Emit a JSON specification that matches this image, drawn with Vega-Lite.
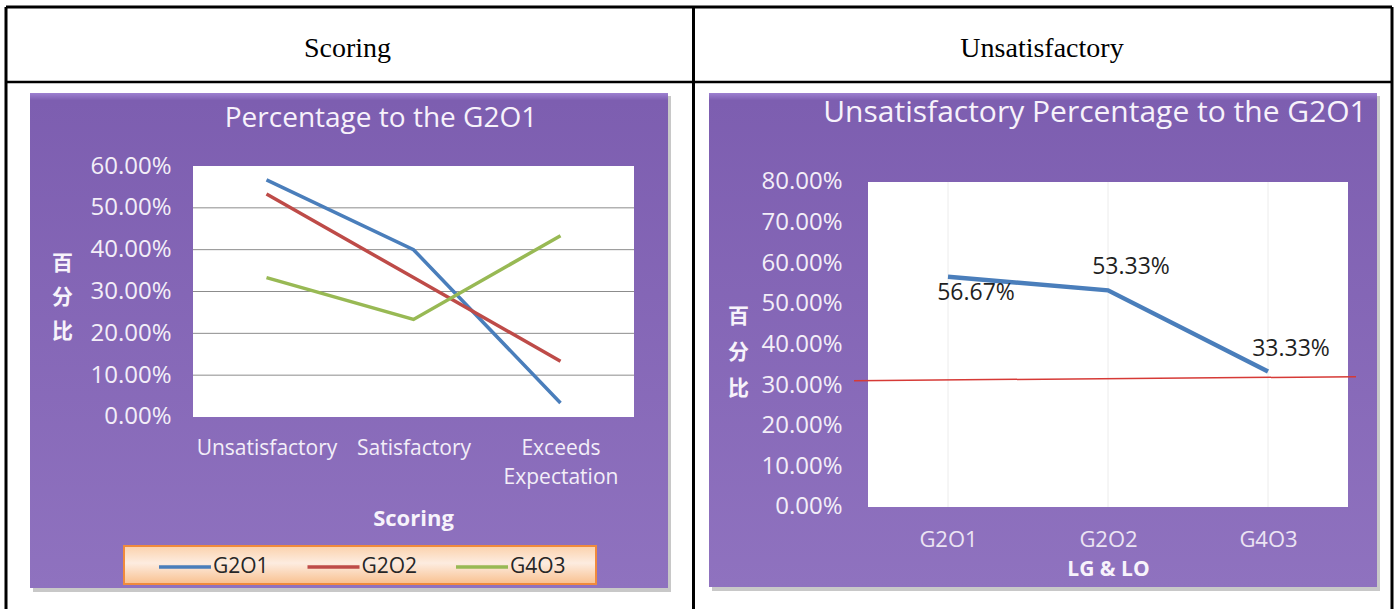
{
  "$schema": "https://vega.github.io/schema/vega-lite/v6.json",
  "background": "white",
  "padding": 0,
  "spacing": 0,
  "bounds": "flush",
  "datasets": {
    "scoring": [
      {"scoring": "Unsatisfactory", "level": 1, "group": "G2O1", "pct": 0.5667},
      {"scoring": "Satisfactory", "level": 2, "group": "G2O1", "pct": 0.4},
      {"scoring": "Exceeds Expectation", "level": 3, "group": "G2O1", "pct": 0.0333},
      {"scoring": "Unsatisfactory", "level": 1, "group": "G2O2", "pct": 0.5333},
      {"scoring": "Satisfactory", "level": 2, "group": "G2O2", "pct": 0.3333},
      {"scoring": "Exceeds Expectation", "level": 3, "group": "G2O2", "pct": 0.1333},
      {"scoring": "Unsatisfactory", "level": 1, "group": "G4O3", "pct": 0.3333},
      {"scoring": "Satisfactory", "level": 2, "group": "G4O3", "pct": 0.2333},
      {"scoring": "Exceeds Expectation", "level": 3, "group": "G4O3", "pct": 0.4333}
    ],
    "unsat": [
      {"group": "G2O1", "rank": 1, "pct": 0.5667},
      {"group": "G2O2", "rank": 2, "pct": 0.5333},
      {"group": "G4O3", "rank": 3, "pct": 0.3333}
    ]
  },
  "hconcat": [
    {
      "width": 697,
      "height": 609,
      "data": {"name": "scoring"},
      "layer": [
        {
          "data": {"values": [{}]},
          "mark": {"type": "rect", "color": "#4a4a4a", "opacity": 0.3},
          "encoding": {
            "x": {"datum": -0.5884, "type": "quantitative", "scale": {"domain": [-0.81293, 3.92857], "nice": false, "zero": false}},
            "x2": {"datum": 3.7517},
            "y": {"datum": 0.7673, "type": "quantitative", "scale": {"domain": [-0.45897, 0.99682], "nice": false, "zero": false}},
            "y2": {"datum": -0.4183}
          }
        },
        {
          "data": {"values": [{}]},
          "mark": {"type": "rect", "fill": {"gradient": "linear", "x1": 0, "y1": 0, "x2": 0, "y2": 1, "stops": [{"offset": 0, "color": "#9d80d0"}, {"offset": 0.015, "color": "#7d5eb0"}, {"offset": 1, "color": "#8f72bf"}]}},
          "encoding": {
            "x": {"datum": -0.60884, "type": "quantitative"},
            "x2": {"datum": 3.73129},
            "y": {"datum": 0.77451, "type": "quantitative"},
            "y2": {"datum": -0.40877}
          }
        },
        {
          "data": {"values": [{}]},
          "mark": {"type": "rect", "color": "white", "opacity": 1},
          "encoding": {
            "x": {"datum": 0.5, "type": "quantitative"},
            "x2": {"datum": 3.5},
            "y": {"datum": 0, "type": "quantitative"},
            "y2": {"datum": 0.6}
          }
        },
        {
          "data": {"values": [{"tick": 0.1}, {"tick": 0.2}, {"tick": 0.3}, {"tick": 0.4}, {"tick": 0.5}]},
          "mark": {"type": "rule", "color": "#8c8c8c", "strokeWidth": 1},
          "encoding": {
            "x": {"datum": 0.5, "type": "quantitative"},
            "x2": {"datum": 3.5},
            "y": {"field": "tick", "type": "quantitative"}
          }
        },
        {
          "mark": {"type": "line", "strokeWidth": 3.5},
          "encoding": {
            "x": {
              "field": "level", "type": "quantitative",
              "scale": {"domain": [-0.81293, 3.92857], "nice": false, "zero": false},
              "axis": {
                "orient": "bottom", "offset": -192, "values": [1, 2, 3],
                "labelExpr": "datum.value == 1 ? 'Unsatisfactory' : datum.value == 2 ? 'Satisfactory' : ['Exceeds', 'Expectation']",
                "domain": false, "ticks": false, "grid": false, "zindex": 1,
                "labelPadding": 20, "labelFont": "Open Sans", "labelFontSize": 21, "labelColor": "#f3eef8",
                "labelLineHeight": 29, "labelOverlap": false, "labelFlush": false, "labelBound": false,
                "title": "Scoring", "titleFont": "Open Sans", "titleFontWeight": "bold", "titleFontSize": 22,
                "titleColor": "#f7f3fb", "titleX": 413, "titleY": 101, "titleBaseline": "middle", "titleAlign": "center"
              }
            },
            "y": {
              "field": "pct", "type": "quantitative",
              "scale": {"domain": [-0.45897, 0.99682], "nice": false, "zero": false},
              "axis": {
                "orient": "left", "offset": -178, "values": [0, 0.1, 0.2, 0.3, 0.4, 0.5, 0.6], "format": ".2%",
                "domain": false, "ticks": false, "grid": false, "zindex": 1,
                "labelPadding": 7, "labelFont": "Open Sans", "labelFontSize": 24, "labelColor": "#f3eef8",
                "labelOverlap": false, "labelBound": false,
                "title": ["百", "分", "比"], "titleAngle": 0, "titleFont": "Noto Sans CJK SC", "titleFontWeight": "bold",
                "titleFontSize": 21, "titleColor": "#f7f3fb", "titleLineHeight": 34,
                "titleX": -116, "titleY": 263, "titleAlign": "center", "titleBaseline": "middle"
              }
            },
            "color": {
              "field": "group", "type": "nominal",
              "scale": {"domain": ["G2O1", "G2O2", "G4O3"], "range": ["#4a7ebb", "#be4b48", "#98b954"]},
              "legend": {
                "orient": "none", "direction": "horizontal", "columns": 3, "title": null,
                "legendX": 157, "legendY": 539, "padding": 0,
                "symbolType": "stroke", "symbolSize": 2704, "symbolStrokeWidth": 3.5,
                "labelFont": "Open Sans", "labelFontSize": 21, "labelColor": "#262626", "labelOffset": 0,
                "columnPadding": 31.5
              }
            }
          }
        },
        {
          "data": {"values": [{}]},
          "mark": {"type": "rect", "stroke": "#f08a3c", "strokeWidth": 2, "fill": {"gradient": "linear", "x1": 0, "y1": 0, "x2": 0, "y2": 1, "stops": [{"offset": 0, "color": "#fbd2ac"}, {"offset": 0.45, "color": "#fdece0"}, {"offset": 1, "color": "#f9c08e"}]}},
          "encoding": {
            "x": {"datum": 0.0306, "type": "quantitative"},
            "x2": {"datum": 3.2415},
            "y": {"datum": -0.3084, "type": "quantitative"},
            "y2": {"datum": -0.3992}
          }
        },
        {
          "data": {"values": [{}]},
          "mark": {"type": "text", "text": "Percentage to the G2O1", "font": "Open Sans", "fontSize": 28, "color": "#f7f2fb", "baseline": "middle", "align": "center"},
          "encoding": {
            "x": {"datum": 1.7789, "type": "quantitative"},
            "y": {"datum": 0.7124, "type": "quantitative"}
          }
        },
        {
          "data": {"values": [{}]},
          "mark": {"type": "text", "text": "Scoring", "font": "Liberation Serif", "fontSize": 28, "color": "#000000", "baseline": "alphabetic", "align": "center"},
          "encoding": {
            "x": {"datum": 1.551, "type": "quantitative"},
            "y": {"datum": 0.8606, "type": "quantitative"}
          }
        },
        {
          "data": {"values": [{}]},
          "mark": {"type": "rule", "color": "#000000", "strokeWidth": 3},
          "encoding": {
            "x": {"datum": -0.77211, "type": "quantitative"},
            "x2": {"datum": 3.92857},
            "y": {"datum": 0.9801, "type": "quantitative"}
          }
        },
        {
          "data": {"values": [{}]},
          "mark": {"type": "rule", "color": "#000000", "strokeWidth": 2.5},
          "encoding": {
            "x": {"datum": -0.77211, "type": "quantitative"},
            "x2": {"datum": 3.92857},
            "y": {"datum": 0.8008, "type": "quantitative"}
          }
        },
        {
          "data": {"values": [{}]},
          "mark": {"type": "rule", "color": "#000000", "strokeWidth": 3},
          "encoding": {
            "x": {"datum": -0.77211, "type": "quantitative"},
            "y": {"datum": 0.9801, "type": "quantitative"},
            "y2": {"datum": -0.45897}
          }
        },
        {
          "data": {"values": [{}]},
          "mark": {"type": "rule", "color": "#000000", "strokeWidth": 3},
          "encoding": {
            "x": {"datum": 3.90476, "type": "quantitative"},
            "y": {"datum": 0.9801, "type": "quantitative"},
            "y2": {"datum": -0.45897}
          }
        }
      ]
    },
    {
      "width": 697,
      "height": 609,
      "data": {"name": "unsat"},
      "layer": [
        {
          "data": {"values": [{}]},
          "mark": {"type": "rect", "color": "#4a4a4a", "opacity": 0.3},
          "encoding": {
            "x": {"datum": -0.475, "type": "quantitative", "scale": {"domain": [-0.56875, 3.7875], "nice": false, "zero": false}},
            "x2": {"datum": 3.7},
            "y": {"datum": 1.01169, "type": "quantitative", "scale": {"domain": [-0.25108, 1.248], "nice": false, "zero": false}},
            "y2": {"datum": -0.20677}
          }
        },
        {
          "data": {"values": [{}]},
          "mark": {"type": "rect", "fill": {"gradient": "linear", "x1": 0, "y1": 0, "x2": 0, "y2": 1, "stops": [{"offset": 0, "color": "#9d80d0"}, {"offset": 0.015, "color": "#7d5eb0"}, {"offset": 1, "color": "#8f72bf"}]}},
          "encoding": {
            "x": {"datum": -0.49375, "type": "quantitative"},
            "x2": {"datum": 3.68125},
            "y": {"datum": 1.01908, "type": "quantitative"},
            "y2": {"datum": -0.19692}
          }
        },
        {
          "data": {"values": [{}]},
          "mark": {"type": "rect", "color": "white", "opacity": 1},
          "encoding": {
            "x": {"datum": 0.5, "type": "quantitative"},
            "x2": {"datum": 3.5},
            "y": {"datum": 0, "type": "quantitative"},
            "y2": {"datum": 0.8}
          }
        },
        {
          "mark": {"type": "rule", "color": "#ececec", "strokeWidth": 1},
          "encoding": {
            "x": {"field": "rank", "type": "quantitative"},
            "y": {"datum": 0, "type": "quantitative"},
            "y2": {"datum": 0.8}
          }
        },
        {
          "mark": {"type": "line", "strokeWidth": 4.5, "color": "#4a7ebb"},
          "encoding": {
            "x": {
              "field": "rank", "type": "quantitative",
              "scale": {"domain": [-0.56875, 3.7875], "nice": false, "zero": false},
              "axis": {
                "orient": "bottom", "offset": -102, "values": [1, 2, 3],
                "labelExpr": "datum.value == 1 ? 'G2O1' : datum.value == 2 ? 'G2O2' : 'G4O3'",
                "domain": false, "ticks": false, "grid": false, "zindex": 1,
                "labelPadding": 22, "labelFont": "Open Sans", "labelFontSize": 22, "labelColor": "#ece4f4",
                "labelOverlap": false, "labelFlush": false, "labelBound": false,
                "title": "LG & LO", "titleFont": "Open Sans", "titleFontWeight": "bold", "titleFontSize": 21,
                "titleColor": "#f7f3fb", "titleX": 411, "titleY": 62, "titleBaseline": "middle", "titleAlign": "center"
              }
            },
            "y": {
              "field": "pct", "type": "quantitative",
              "scale": {"domain": [-0.25108, 1.248], "nice": false, "zero": false},
              "axis": {
                "orient": "left", "offset": -155, "values": [0, 0.1, 0.2, 0.3, 0.4, 0.5, 0.6, 0.7, 0.8], "format": ".2%",
                "domain": false, "ticks": false, "grid": false, "zindex": 1,
                "labelPadding": 10, "labelFont": "Open Sans", "labelFontSize": 24, "labelColor": "#f3eef8",
                "labelOverlap": false, "labelBound": false,
                "title": ["百", "分", "比"], "titleAngle": 0, "titleFont": "Noto Sans CJK SC", "titleFontWeight": "bold",
                "titleFontSize": 21, "titleColor": "#f7f3fb", "titleLineHeight": 36,
                "titleX": -114, "titleY": 316, "titleAlign": "center", "titleBaseline": "middle"
              }
            }
          }
        },
        {
          "transform": [{"filter": "datum.group == 'G2O1'"}],
          "mark": {"type": "text", "font": "Open Sans", "fontSize": 23, "color": "#1f1f1f", "dx": 28, "dy": 16, "baseline": "middle", "align": "center"},
          "encoding": {
            "x": {"field": "rank", "type": "quantitative"},
            "y": {"field": "pct", "type": "quantitative"},
            "text": {"field": "pct", "type": "quantitative", "format": ".2%"}
          }
        },
        {
          "transform": [{"filter": "datum.group != 'G2O1'"}],
          "mark": {"type": "text", "font": "Open Sans", "fontSize": 23, "color": "#1f1f1f", "dx": 23, "dy": -23, "baseline": "middle", "align": "center"},
          "encoding": {
            "x": {"field": "rank", "type": "quantitative"},
            "y": {"field": "pct", "type": "quantitative"},
            "text": {"field": "pct", "type": "quantitative", "format": ".2%"}
          }
        },
        {
          "data": {"values": [{}]},
          "mark": {"type": "rule", "color": "#d63a36", "strokeWidth": 1.5},
          "encoding": {
            "x": {"datum": 0.4125, "type": "quantitative"},
            "x2": {"datum": 3.55},
            "y": {"datum": 0.311, "type": "quantitative"},
            "y2": {"datum": 0.3207}
          }
        },
        {
          "data": {"values": [{}]},
          "mark": {"type": "text", "text": "Unsatisfactory Percentage to the G2O1", "font": "Open Sans", "fontSize": 30, "color": "#f7f2fb", "baseline": "middle", "align": "center"},
          "encoding": {
            "x": {"datum": 1.91875, "type": "quantitative"},
            "y": {"datum": 0.96985, "type": "quantitative"}
          }
        },
        {
          "data": {"values": [{}]},
          "mark": {"type": "text", "text": "Unsatisfactory", "font": "Liberation Serif", "fontSize": 28, "color": "#000000", "baseline": "alphabetic", "align": "center"},
          "encoding": {
            "x": {"datum": 1.5875, "type": "quantitative"},
            "y": {"datum": 1.10769, "type": "quantitative"}
          }
        },
        {
          "data": {"values": [{}]},
          "mark": {"type": "rule", "color": "#000000", "strokeWidth": 3},
          "encoding": {
            "x": {"datum": -0.56875, "type": "quantitative"},
            "x2": {"datum": 3.775},
            "y": {"datum": 1.23077, "type": "quantitative"}
          }
        },
        {
          "data": {"values": [{}]},
          "mark": {"type": "rule", "color": "#000000", "strokeWidth": 2.5},
          "encoding": {
            "x": {"datum": -0.56875, "type": "quantitative"},
            "x2": {"datum": 3.775},
            "y": {"datum": 1.04615, "type": "quantitative"}
          }
        },
        {
          "data": {"values": [{}]},
          "mark": {"type": "rule", "color": "#000000", "strokeWidth": 3},
          "encoding": {
            "x": {"datum": 3.775, "type": "quantitative"},
            "y": {"datum": 1.23077, "type": "quantitative"},
            "y2": {"datum": -0.25108}
          }
        }
      ]
    }
  ],
  "config": {
    "view": {"stroke": null},
    "concat": {"spacing": 0}
  }
}
